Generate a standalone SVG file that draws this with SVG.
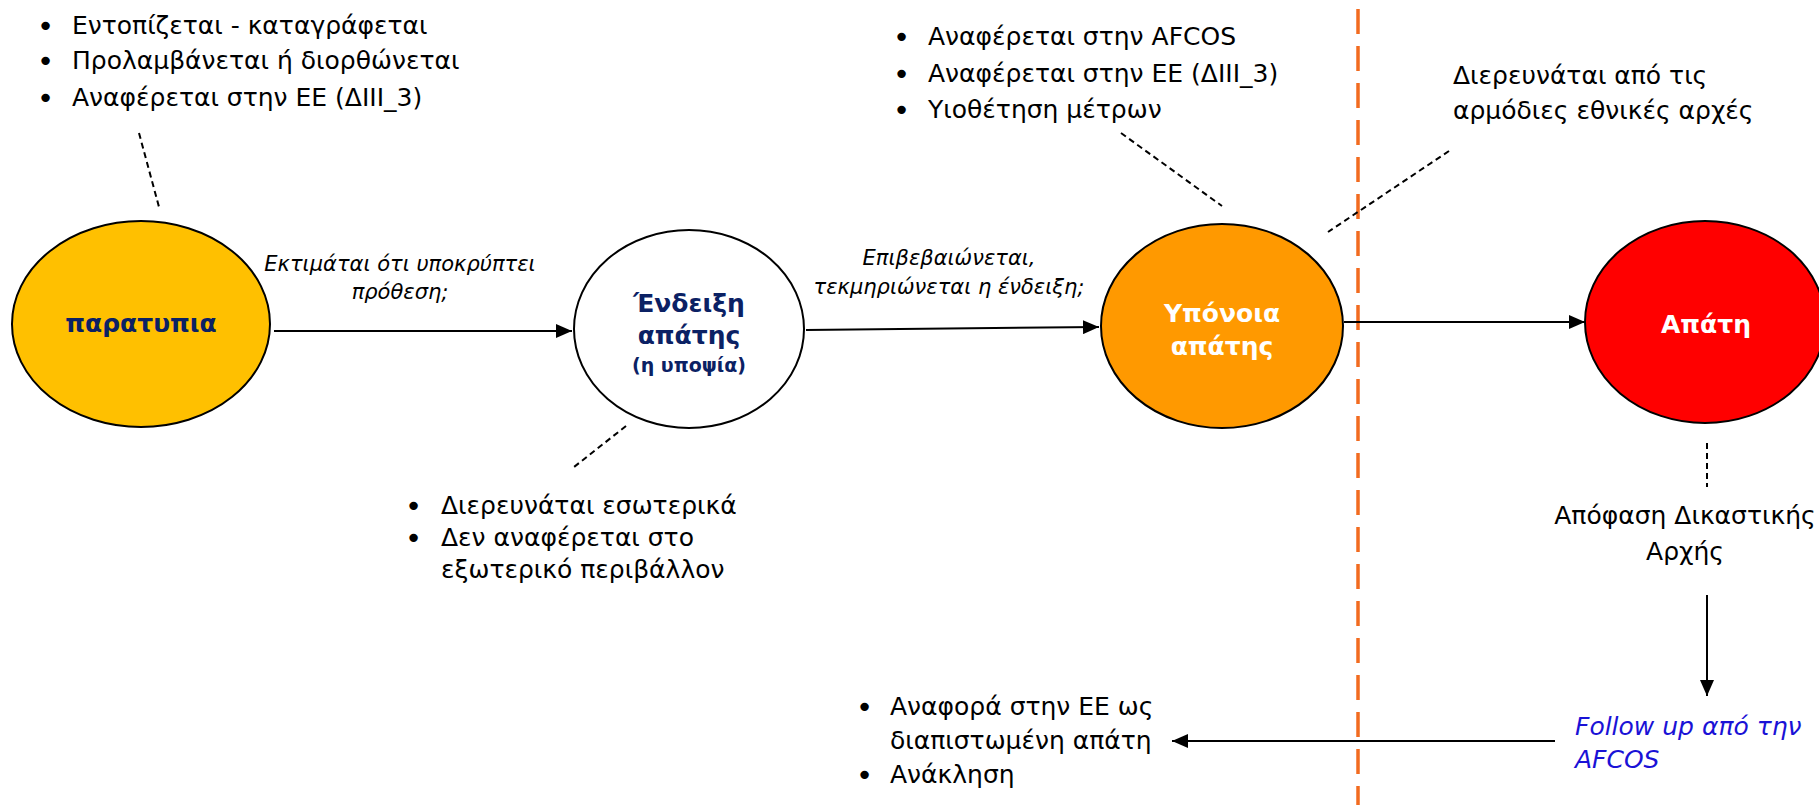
<svg xmlns="http://www.w3.org/2000/svg" width="1819" height="811" viewBox="0 0 1819 811">
<style>
.t{font-family:"DejaVu Sans","Liberation Sans",sans-serif;font-size:25px;fill:#000}
.bu{font-family:"DejaVu Sans","Liberation Sans",sans-serif;font-size:29px;fill:#000}
.b{font-family:"DejaVu Sans","Liberation Sans",sans-serif;font-weight:bold;font-size:25px;text-anchor:middle}
.i{font-family:"DejaVu Sans","Liberation Sans",sans-serif;font-style:italic;font-size:21px;text-anchor:middle;fill:#000}
.navy{fill:#0B2164}
.wh{fill:#fff}
.el{stroke:#000;stroke-width:2}
.con{stroke:#000;stroke-width:2;fill:none}
.dash{stroke:#000;stroke-width:2;stroke-dasharray:6 4;fill:none}
</style>
<defs>
<marker id="ah" markerUnits="userSpaceOnUse" markerWidth="16" markerHeight="14" refX="16" refY="7" orient="auto">
<path d="M0,0 L16,7 L0,14 z" fill="#000"/>
</marker>
</defs>
<rect width="1819" height="811" fill="#fff"/>

<g id="divider">
<line x1="1358" y1="9" x2="1358" y2="805" stroke="#F26B1F" stroke-width="3.5" stroke-dasharray="25 12"/>
</g>

<g id="connectors">
<line class="con" x1="274" y1="331" x2="572" y2="331" marker-end="url(#ah)"/>
<line class="con" x1="806" y1="330" x2="1099" y2="327" marker-end="url(#ah)"/>
<line class="con" x1="1344" y1="322" x2="1585" y2="322" marker-end="url(#ah)"/>
<line class="con" x1="1707" y1="595" x2="1707" y2="696" marker-end="url(#ah)"/>
<line class="con" x1="1555" y1="741" x2="1172" y2="741" marker-end="url(#ah)"/>
<line class="dash" x1="139" y1="133" x2="159" y2="207"/>
<line class="dash" x1="626" y1="426" x2="574" y2="467"/>
<line class="dash" x1="1121" y1="133" x2="1222" y2="206"/>
<line class="dash" x1="1449" y1="151" x2="1328" y2="232"/>
<line class="dash" x1="1707" y1="443" x2="1707" y2="487" stroke-dasharray="5 3"/>
<text class="i" x="400" y="271">Εκτιμάται ότι υποκρύπτει</text>
<text class="i" x="400" y="299">πρόθεση;</text>
<text class="i" x="949" y="265">Επιβεβαιώνεται,</text>
<text class="i" x="949" y="294">τεκμηριώνεται η ένδειξη;</text>
</g>

<g id="node-paratypia">
<ellipse class="el" cx="141" cy="324" rx="129" ry="103" fill="#FFC000"/>
<text class="b navy" x="141" y="332">παρατυπια</text>
</g>

<g id="node-endeixi">
<ellipse class="el" cx="689" cy="329" rx="115" ry="99" fill="#fff"/>
<text class="b navy" x="689" y="312">Ένδειξη</text>
<text class="b navy" x="689" y="344">απάτης</text>
<text class="b navy" x="689" y="372" style="font-size:19px">(η υποψία)</text>
</g>

<g id="node-yponoia">
<ellipse class="el" cx="1222" cy="326" rx="121" ry="102" fill="#FF9900"/>
<text class="b wh" x="1222" y="322">Υπόνοια</text>
<text class="b wh" x="1222" y="355">απάτης</text>
</g>

<g id="node-apati">
<ellipse class="el" cx="1705" cy="322" rx="120" ry="101" fill="#FF0000"/>
<text class="b wh" x="1706" y="333">Απάτη</text>
</g>

<g id="note-top-left">
<text class="bu" x="37" y="36">•</text><text class="t" x="72" y="34">Εντοπίζεται - καταγράφεται</text>
<text class="bu" x="37" y="71">•</text><text class="t" x="72" y="69">Προλαμβάνεται ή διορθώνεται</text>
<text class="bu" x="37" y="108">•</text><text class="t" x="72" y="106">Αναφέρεται στην ΕΕ (ΔΙΙΙ_3)</text>
</g>

<g id="note-internal">
<text class="bu" x="405" y="516">•</text><text class="t" x="441" y="514">Διερευνάται εσωτερικά</text>
<text class="bu" x="405" y="548">•</text><text class="t" x="441" y="546">Δεν αναφέρεται στο</text>
<text class="t" x="441" y="578">εξωτερικό περιβάλλον</text>
</g>

<g id="note-afcos">
<text class="bu" x="893" y="47">•</text><text class="t" x="928" y="45">Αναφέρεται στην AFCOS</text>
<text class="bu" x="893" y="84">•</text><text class="t" x="928" y="82">Αναφέρεται στην ΕΕ (ΔΙΙΙ_3)</text>
<text class="bu" x="893" y="120">•</text><text class="t" x="928" y="118">Υιοθέτηση μέτρων</text>
</g>

<g id="note-national">
<text class="t" x="1453" y="84">Διερευνάται από τις</text>
<text class="t" x="1453" y="119">αρμόδιες εθνικές αρχές</text>
</g>

<g id="note-court">
<text class="t" x="1685" y="524" text-anchor="middle">Απόφαση Δικαστικής</text>
<text class="t" x="1685" y="560" text-anchor="middle">Αρχής</text>
</g>

<g id="note-followup">
<text class="t" x="1575" y="735" style="font-style:italic;fill:#1A12D6">Follow up από την</text>
<text class="t" x="1575" y="768" style="font-style:italic;fill:#1A12D6">AFCOS</text>
</g>

<g id="note-report">
<text class="bu" x="856" y="717">•</text><text class="t" x="890" y="715">Αναφορά στην ΕΕ ως</text>
<text class="t" x="890" y="749">διαπιστωμένη απάτη</text>
<text class="bu" x="856" y="785">•</text><text class="t" x="890" y="783">Ανάκληση</text>
</g>
</svg>
